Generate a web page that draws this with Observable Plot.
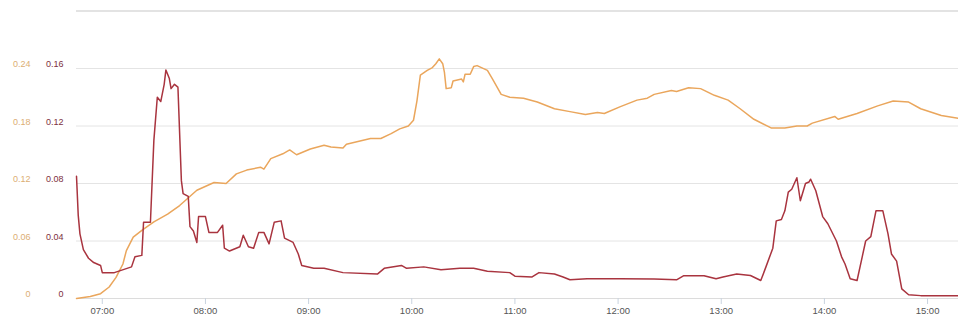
<!DOCTYPE html>
<html><head><meta charset="utf-8">
<script src="https://cdn.jsdelivr.net/npm/d3@7"></script>
<script src="https://cdn.jsdelivr.net/npm/@observablehq/plot@0.6"></script>
<style>body{margin:0;background:#fff;}</style>
</head><body><div id="chart"></div>
<script>
const redTimes = ["06:45","06:46","06:47","06:49","06:52","06:55","06:59","07:00","07:07","07:17","07:19","07:23","07:24","07:28","07:30","07:32","07:34","07:36","07:37","07:39","07:40","07:42","07:44","07:46","07:47","07:50","07:51","07:53","07:55","07:56","08:00","08:02","08:07","08:10","08:11","08:14","08:20","08:22","08:25","08:28","08:31","08:34","08:37","08:40","08:44","08:46","08:51","08:54","08:56","09:03","09:09","09:20","09:40","09:44","09:54","09:57","10:07","10:17","10:28","10:36","10:44","10:57","11:00","11:10","11:14","11:23","11:28","11:32","11:42","12:01","12:21","12:34","12:38","12:50","12:57","13:01","13:09","13:17","13:23","13:26","13:30","13:32","13:35","13:37","13:39","13:41","13:44","13:46","13:49","13:51","13:52","13:55","13:59","14:02","14:07","14:10","14:12","14:15","14:19","14:22","14:24","14:27","14:30","14:34","14:37","14:39","14:42","14:45","14:49","14:56","15:18"];
const redValues = [0.085,0.058,0.045,0.034,0.028,0.025,0.023,0.018,0.018,0.022,0.029,0.030,0.053,0.053,0.110,0.140,0.137,0.149,0.159,0.153,0.146,0.149,0.147,0.082,0.073,0.071,0.050,0.047,0.039,0.057,0.057,0.046,0.046,0.051,0.035,0.033,0.036,0.044,0.036,0.035,0.046,0.046,0.038,0.053,0.054,0.042,0.039,0.031,0.023,0.021,0.021,0.018,0.017,0.021,0.023,0.021,0.022,0.020,0.021,0.021,0.019,0.018,0.0155,0.015,0.018,0.017,0.015,0.013,0.0137,0.0137,0.0135,0.013,0.0158,0.0158,0.0137,0.015,0.017,0.016,0.0125,0.022,0.035,0.054,0.055,0.061,0.074,0.076,0.084,0.068,0.080,0.081,0.083,0.075,0.057,0.052,0.040,0.029,0.024,0.0137,0.0125,0.029,0.040,0.043,0.061,0.061,0.045,0.031,0.026,0.0067,0.0026,0.002,0.002];
const orangeTimes = ["06:45","06:53","06:59","07:04","07:08","07:12","07:14","07:18","07:23","07:30","07:38","07:45","07:55","08:05","08:12","08:18","08:24","08:32","08:34","08:38","08:45","08:49","08:53","09:01","09:09","09:13","09:20","09:22","09:36","09:42","09:48","09:53","09:58","10:01","10:03","10:05","10:09","10:12","10:14","10:16","10:18","10:19","10:20","10:23","10:24","10:29","10:30","10:31","10:34","10:36","10:38","10:44","10:47","10:52","10:57","11:05","11:13","11:23","11:32","11:41","11:48","11:52","12:01","12:11","12:17","12:21","12:31","12:34","12:41","12:48","12:56","13:04","13:11","13:19","13:29","13:37","13:44","13:50","13:53","14:06","14:08","14:19","14:31","14:40","14:49","14:56","15:08","15:18"];
const orangeValues = [0.0,0.002,0.005,0.012,0.022,0.036,0.050,0.064,0.071,0.080,0.088,0.097,0.113,0.121,0.120,0.130,0.134,0.137,0.135,0.146,0.151,0.155,0.150,0.156,0.160,0.158,0.157,0.161,0.167,0.167,0.172,0.177,0.180,0.186,0.206,0.233,0.238,0.241,0.245,0.250,0.245,0.236,0.219,0.220,0.227,0.229,0.226,0.234,0.234,0.242,0.243,0.238,0.229,0.213,0.210,0.209,0.205,0.198,0.195,0.192,0.194,0.193,0.200,0.207,0.209,0.213,0.217,0.216,0.220,0.219,0.212,0.207,0.198,0.187,0.178,0.178,0.180,0.180,0.183,0.190,0.187,0.193,0.201,0.206,0.205,0.198,0.191,0.188];
const redTicks = [0, 0.04, 0.08, 0.12, 0.16];
const orangeTicks = [0, 0.06, 0.12, 0.18, 0.24];
const gridValues = [0.04, 0.08, 0.12, 0.16, 0.2];
const hourTicks = ["07:00","08:00","09:00","10:00","11:00","12:00","13:00","14:00","15:00"];
const xDomain = ["06:45","15:18"];
const redMax = 0.2;
const ratio = 1.5; // orange axis = red axis * 1.5

const RED = "#a9343f";
const ORANGE = "#eaa65c";

const toDate = s => { const [h, m] = s.split(":").map(Number); return new Date(Date.UTC(2020, 0, 1, h, m)); };
const fmt = d3.format("~g");
const red = redTimes.map((t, i) => ({t: toDate(t), v: redValues[i]}));
const orange = orangeTimes.map((t, i) => ({t: toDate(t), v: orangeValues[i] / ratio}));

const chart = Plot.plot({
  width: 958,
  height: 320,
  marginLeft: 76,
  marginRight: 0,
  marginTop: 10.5,
  marginBottom: 22,
  style: {fontFamily: "'Liberation Sans', Arial, sans-serif", background: "#fff"},
  x: {type: "utc", domain: xDomain.map(toDate), axis: null, label: null},
  y: {domain: [0, redMax], axis: null, label: null},
  marks: [
    Plot.ruleY(gridValues, {stroke: "#e4e4e4", strokeWidth: 1}),
    Plot.ruleY([redMax], {stroke: "#dedede", strokeWidth: 1.5}),
    Plot.ruleY([0], {stroke: "#dcdcdc", strokeWidth: 1}),
    Plot.axisX({ticks: hourTicks.map(toDate), tickFormat: d3.utcFormat("%H:%M"), tickSize: 6, tickPadding: 3, stroke: "#c9d3df", fill: "#555", fontSize: 9.5, label: null}),
    Plot.axisY({ticks: redTicks, tickSize: 0, tickPadding: 13, fill: "#7d2f3e", fontSize: 9, dy: -4, tickFormat: fmt, label: null}),
    Plot.axisY(orangeTicks.map(v => v / ratio), {tickSize: 0, tickPadding: 46, fill: "#dcae74", fontSize: 9, dy: -4, tickFormat: d => fmt(+(d * ratio).toFixed(4)), label: null}),
    Plot.line(orange, {x: "t", y: "v", stroke: ORANGE, strokeWidth: 1.5}),
    Plot.line(red, {x: "t", y: "v", stroke: RED, strokeWidth: 1.5})
  ]
});
document.getElementById("chart").appendChild(chart);
</script>
</body></html>
